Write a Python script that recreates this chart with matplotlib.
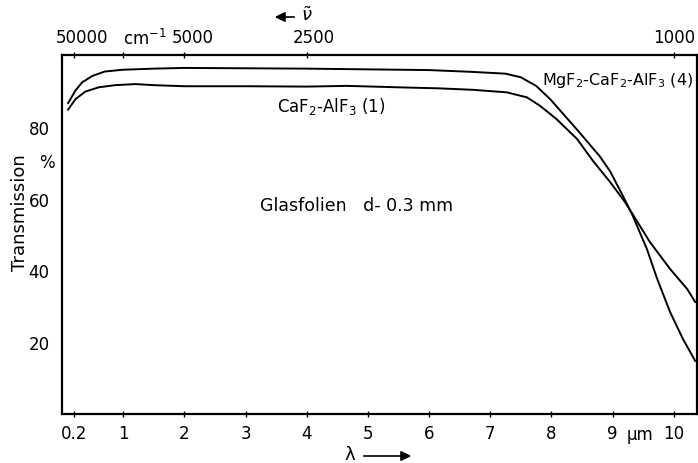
import matplotlib
matplotlib.use("Agg")
import matplotlib.pyplot as plt
from matplotlib.patches import FancyArrowPatch
from matplotlib.transforms import ScaledTranslation, blended_transform_factory

plt.rcParams["font.family"] = ["DejaVu Sans"]
plt.rcParams["mathtext.fontset"] = "dejavusans"

# ---- data (wavelength in um, transmission in %) ----
lam_4 = [0.10, 0.22, 0.33, 0.50, 0.70, 1.0, 1.5, 2.0, 3.0, 4.0, 5.0, 6.0, 6.7,
         7.25, 7.5, 7.75, 7.98, 8.43, 8.79, 8.96, 9.17, 9.32, 9.56, 9.73,
         9.94, 10.15, 10.35]
T_4 = [86.6, 90.1, 92.4, 94.2, 95.4, 95.9, 96.2, 96.4, 96.3, 96.2, 96.0, 95.8, 95.3,
       94.8, 93.8, 91.4, 87.7, 79.0, 71.8, 67.6, 60.7, 55.6, 46.0, 37.6,
       28.4, 20.9, 14.8]

lam_1 = [0.10, 0.22, 0.38, 0.60, 0.87, 1.2, 1.5, 2.0, 3.0, 4.0, 4.66, 5.5, 6.18,
         6.72, 7.27, 7.6, 7.81, 8.08, 8.42, 8.68, 8.96, 9.2, 9.33, 9.61, 9.94,
         10.22, 10.35]
T_1 = [84.8, 87.7, 89.8, 91.0, 91.6, 91.9, 91.6, 91.3, 91.3, 91.2, 91.4, 91.0, 90.7,
       90.3, 89.6, 88.2, 85.9, 82.2, 76.6, 70.5, 64.6, 59.1, 55.6, 47.9, 40.4,
       34.8, 31.2]

x_ticks = [0.2, 1, 2, 3, 4, 5, 6, 7, 8, 9, 10]
x_labels = ["0.2", "1", "2", "3", "4", "5", "6", "7", "8", "9", "10"]
y_ticks = [20, 40, 60, 80]
wavenumbers = [50000, 10000, 5000, 2500, 1000]          # cm-1, top scale
wn_labels = ["50000", "", "5000", "2500", "1000"]
wn_shift = [8, 0, 8, 7, 0]                               # label offset, px

fig = plt.figure(figsize=(6.98, 4.64), dpi=100)
ax = fig.add_axes([62/698, 1 - 415/464, 635/698, (415 - 56)/464])
ax.set_xlim(0, 10.38)
ax.set_ylim(0, 100)

ax.plot(lam_4, T_4, color="black", lw=1.4)
ax.plot(lam_1, T_1, color="black", lw=1.4)

for s in ax.spines.values():
    s.set_linewidth(1.6)

ax.set_xticks(x_ticks)
ax.set_xticklabels(x_labels, fontsize=12)
ax.tick_params(axis="x", direction="inout", length=5, width=1, pad=5)
ax.set_yticks(y_ticks)
ax.tick_params(axis="y", length=0, labelsize=12, pad=9)

# top wavenumber scale
axt = ax.twiny()
axt.set_xlim(ax.get_xlim())
axt.set_xticks([1e4 / v for v in wavenumbers])
axt.set_xticklabels(wn_labels, fontsize=12)
axt.tick_params(axis="x", direction="inout", length=5, width=1, pad=4)
for lab, dx in zip(axt.get_xticklabels(), wn_shift):
    lab.set_transform(lab.get_transform() + ScaledTranslation(dx/100, 0, fig.dpi_scale_trans))
for s in axt.spines.values():
    s.set_visible(False)

trans = blended_transform_factory(ax.transData, ax.transAxes)
ax.text(1.0, 1.03, "cm$^{-1}$", transform=trans, fontsize=12, ha="left", va="baseline")
ax.text(9.45, -0.069, "μm", transform=trans, fontsize=12, ha="center", va="baseline")

# labels
ax.text(3.51, 85.8, "CaF$_2$-AlF$_3$ (1)", fontsize=12, ha="left", va="center")
ax.text(7.84, 93.3, "MgF$_2$-CaF$_2$-AlF$_3$ (4)", fontsize=11.5, ha="left", va="center")
ax.text(3.24, 58.2, "Glasfolien   d- 0.3 mm", fontsize=12.5, ha="left", va="center")

fig.text(20/698, 1 - 213/464, "Transmission", rotation=90, fontsize=13,
         ha="center", va="center")
fig.text(47/698, 1 - 163/464, "%", fontsize=12, ha="center", va="center")

# axis arrows
fig.text(350/698, 1 - 455/464, "λ", fontsize=13, ha="center", va="center")
fig.patches.append(FancyArrowPatch(
    (361/698, 1 - 457/464), (414/698, 1 - 457/464), transform=fig.transFigure,
    arrowstyle="-|>,head_length=6,head_width=3", color="black", lw=1.2))
fig.patches.append(FancyArrowPatch(
    (297/698, 1 - 18/464), (272/698, 1 - 18/464), transform=fig.transFigure,
    arrowstyle="-|>,head_length=6,head_width=3", color="black", lw=1.2))
fig.text(307/698, 1 - 16/464, r"$\tilde{\nu}$", fontsize=13, ha="center", va="center")

fig.savefig("out.png", dpi=100, facecolor="white")
